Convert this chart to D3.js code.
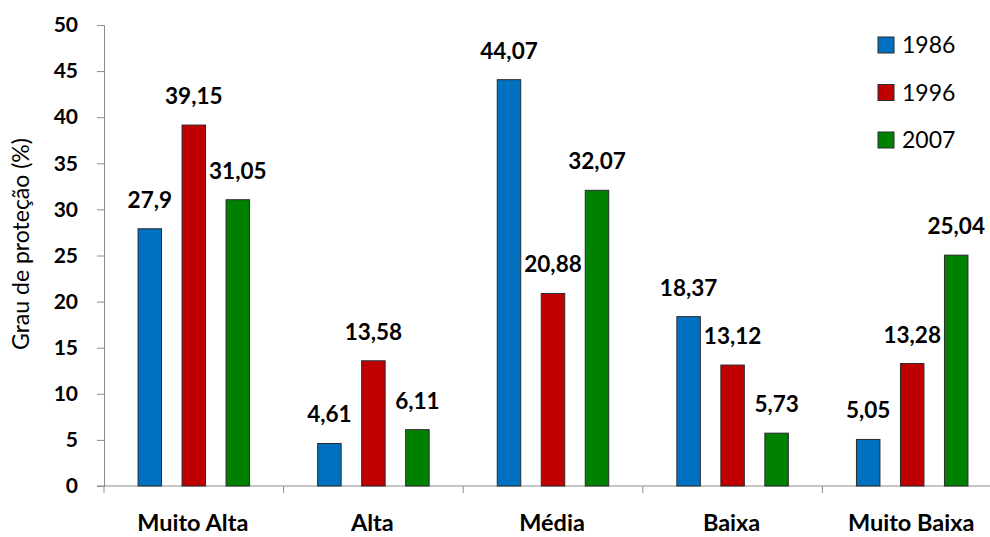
<!DOCTYPE html>
<html>
<head>
<meta charset="utf-8">
<script src="https://cdn.jsdelivr.net/npm/d3@7"></script>
<style>
  html,body{margin:0;padding:0;background:#fff;}
  svg{display:block;}
  text{font-family:Lato,"Open Sans",Arial,sans-serif;fill:#000;}
</style>
</head>
<body>
<svg id="chart" width="990" height="537"></svg>
<script>
// ---- data ----
const categories = ['Muito Alta','Alta','Média','Baixa','Muito Baixa'];
const years = ['1986','1996','2007'];
const v1986 = [27.9, 4.61, 44.07, 18.37, 5.05];
const v1996 = [39.15, 13.58, 20.88, 13.12, 13.28];
const v2007 = [31.05, 6.11, 32.07, 5.73, 25.04];
const yTicks = [0,5,10,15,20,25,30,35,40,45,50];
const colors = ['#0070C0','#C00000','#008000'];

const seriesVals = [v1986, v1996, v2007];
const fmt = v => String(v).replace('.', ',');

const svg = d3.select('#chart');
const padL = 104, padT = 25, baseY = 486;
const step = 179.6;

const x0 = d3.scaleBand().domain(categories).range([padL, padL + step*categories.length]).padding(0);
const x1 = d3.scaleBand().domain(years).range([0, x0.bandwidth()]).paddingInner(0.466).paddingOuter(0.774);
const y = d3.scaleLinear().domain([0,50]).range([baseY, padT]);

// y axis
const yAxis = svg.append('g').attr('transform', `translate(${padL},0)`)
  .call(d3.axisLeft(y).tickValues(yTicks).tickSize(7).tickPadding(19).tickFormat(d3.format('d')));
yAxis.select('.domain').attr('stroke','#8c8c8c');
yAxis.selectAll('.tick line').attr('stroke','#8c8c8c');
yAxis.selectAll('.tick text').attr('font-size',21).attr('font-weight','bold')
  .attr('font-family','Lato,"Open Sans",Arial,sans-serif').attr('fill','#000');

// x axis (category ticks at band boundaries)
const xg = svg.append('g');
xg.append('line').attr('x1', padL-7).attr('x2', 990).attr('y1', baseY).attr('y2', baseY)
  .attr('stroke','#8c8c8c');
const bounds = categories.map(c => x0(c)).concat([x0.range()[1]]);
xg.selectAll('line.ct').data(bounds).join('line').attr('class','ct')
  .attr('x1', d => d).attr('x2', d => d).attr('y1', baseY).attr('y2', baseY+7)
  .attr('stroke','#8c8c8c');
xg.selectAll('text.cat').data(categories).join('text').attr('class','cat')
  .attr('x', d => x0(d) + x0.bandwidth()/2 - 1).attr('y', 531)
  .attr('text-anchor','middle').attr('font-size',23.5).attr('font-weight','bold')
  .text(d => d);

// bars
const groups = svg.append('g').selectAll('g').data(categories).join('g')
  .attr('transform', d => `translate(${x0(d)},0)`);
groups.selectAll('rect').data((c,i) => years.map((yr,j) => ({yr, v: seriesVals[j][i], j})))
  .join('rect')
  .attr('x', d => x1(d.yr)).attr('width', x1.bandwidth())
  .attr('y', d => y(d.v)).attr('height', d => baseY - y(d.v))
  .attr('fill', d => colors[d.j]).attr('stroke','#2b2b2b').attr('stroke-width',1);
groups.selectAll('text').data((c,i) => years.map((yr,j) => ({yr, v: seriesVals[j][i], j})))
  .join('text')
  .attr('x', d => x1(d.yr) + x1.bandwidth()/2).attr('y', d => y(d.v) - 21)
  .attr('text-anchor','middle').attr('font-size',22.5).attr('font-weight','bold')
  .text(d => fmt(d.v));

// y axis title
svg.append('text').attr('transform','translate(29,244) rotate(-90)')
  .attr('text-anchor','middle').attr('font-size',23).text('Grau de proteção (%)');

// legend
const lg = svg.append('g').selectAll('g').data(years).join('g')
  .attr('transform', (d,i) => `translate(878,${37 + i*47.5})`);
lg.append('rect').attr('width',16).attr('height',16)
  .attr('fill', (d,i) => colors[i]).attr('stroke','#2b2b2b').attr('stroke-width',1);
lg.append('text').attr('x',24).attr('y',16).attr('font-size',23).text(d => d);
</script>
</body>
</html>
